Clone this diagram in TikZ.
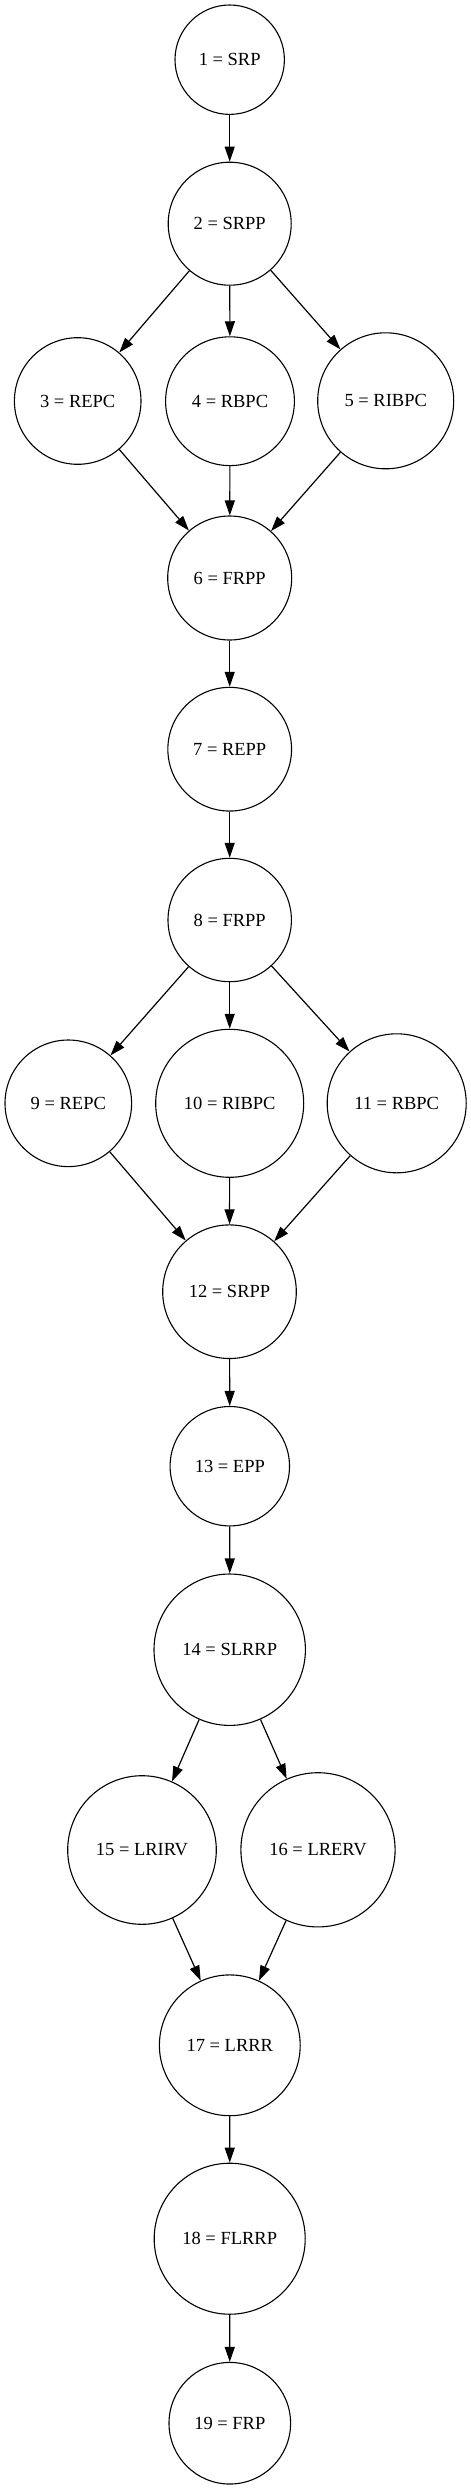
\documentclass[tikz,border=0pt]{standalone}
\usepackage{fontspec}
\setmainfont{Liberation Serif}
\usetikzlibrary{arrows.meta}
\begin{document}
\begin{tikzpicture}[x=1pt,y=-1pt,
  st/.style={circle,draw=black,line width=1.1pt,inner sep=0pt,font=\fontsize{18.5}{22}\selectfont},
  ed/.style={line width=1.2pt,-{Triangle[length=15pt,width=10pt]}}]
\useasboundingbox (0,0) rectangle (471,2489);
\node[st,minimum size=109.4pt] (n1) at (229.7,59.7) {1 = SRP};
\node[st,minimum size=123pt] (n2) at (229.7,223.7) {2 = SRPP};
\node[st,minimum size=126.6pt] (n3) at (77.7,401) {3 = REPC};
\node[st,minimum size=128.8pt] (n4) at (230,401.2) {4 = RBPC};
\node[st,minimum size=136pt] (n5) at (385.7,400.8) {5 = RIBPC};
\node[st,minimum size=124pt] (n6) at (229.7,578) {6 = FRPP};
\node[st,minimum size=123.7pt] (n7) at (229.7,749.2) {7 = REPP};
\node[st,minimum size=123.4pt] (n8) at (229.7,920) {8 = FRPP};
\node[st,minimum size=126.6pt] (n9) at (68.3,1103.3) {9 = REPC};
\node[st,minimum size=148pt] (n10) at (229.7,1103.3) {10 = RIBPC};
\node[st,minimum size=139pt] (n11) at (396.7,1103.3) {11 = RBPC};
\node[st,minimum size=133.6pt] (n12) at (229.5,1291.7) {12 = SRPP};
\node[st,minimum size=119.4pt] (n13) at (229.8,1466.2) {13 = EPP};
\node[st,minimum size=151.4pt] (n14) at (229.7,1649.7) {14 = SLRRP};
\node[st,minimum size=148.6pt] (n15) at (142,1850) {15 = LRIRV};
\node[st,minimum size=154.2pt] (n16) at (318,1849.8) {16 = LRERV};
\node[st,minimum size=140.8pt] (n17) at (229.8,2045.3) {17 = LRRR};
\node[st,minimum size=151pt] (n18) at (229.7,2238.7) {18 = FLRRP};
\node[st,minimum size=121.6pt] (n19) at (229.8,2423.2) {19 = FRP};
\draw[ed] (n1) -- (n2);
\draw[ed] (n2) -- (n3);
\draw[ed] (n2) -- (n4);
\draw[ed] (n2) -- (n5);
\draw[ed] (n3) -- (n6);
\draw[ed] (n4) -- (n6);
\draw[ed] (n5) -- (n6);
\draw[ed] (n6) -- (n7);
\draw[ed] (n7) -- (n8);
\draw[ed] (n8) -- (n9);
\draw[ed] (n8) -- (n10);
\draw[ed] (n8) -- (n11);
\draw[ed] (n9) -- (n12);
\draw[ed] (n10) -- (n12);
\draw[ed] (n11) -- (n12);
\draw[ed] (n12) -- (n13);
\draw[ed] (n13) -- (n14);
\draw[ed] (n14) -- (n15);
\draw[ed] (n14) -- (n16);
\draw[ed] (n15) -- (n17);
\draw[ed] (n16) -- (n17);
\draw[ed] (n17) -- (n18);
\draw[ed] (n18) -- (n19);
\end{tikzpicture}
\end{document}
